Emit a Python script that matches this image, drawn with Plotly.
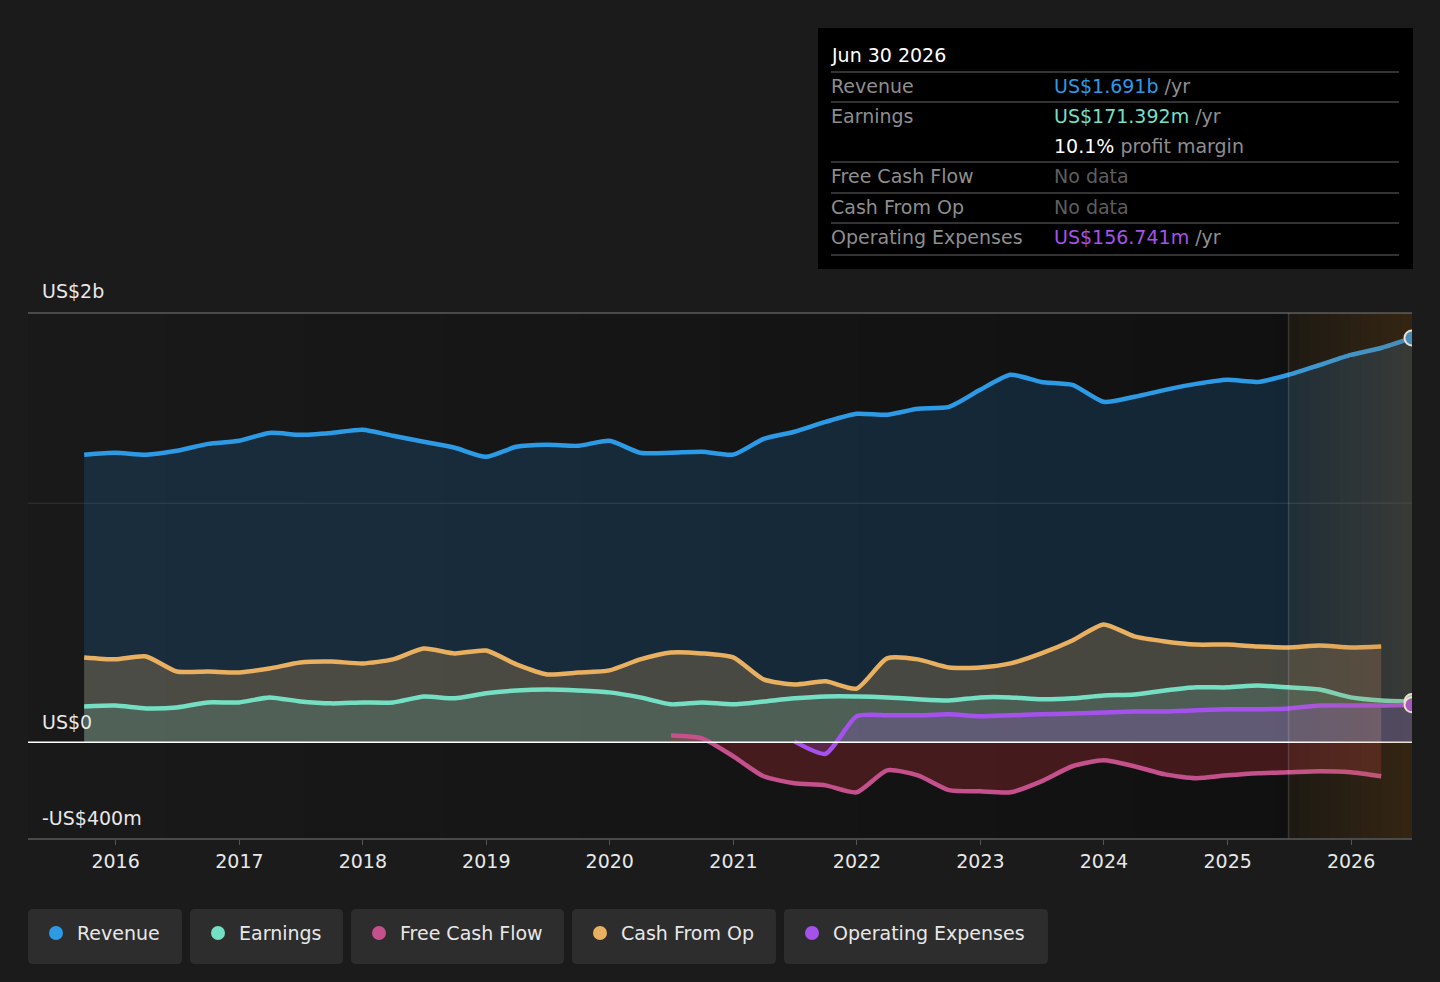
import pandas as pd
import plotly.graph_objects as go

# quarterly values, US$ billions
rev_dates = pd.date_range("2015-09-30", "2026-06-30", freq="QE")
revenue = [1.203, 1.211,
           1.203, 1.219, 1.248, 1.261,
           1.294, 1.286, 1.294, 1.307,
           1.282, 1.257, 1.232, 1.194,
           1.236, 1.244, 1.240, 1.261,
           1.211, 1.211, 1.215, 1.203,
           1.269, 1.299, 1.340, 1.374,
           1.370, 1.395, 1.403, 1.474,
           1.537, 1.507, 1.495, 1.424,
           1.445, 1.474, 1.499, 1.516,
           1.507, 1.537, 1.578, 1.620,
           1.649, 1.691]

earn_dates = pd.date_range("2015-09-30", "2026-06-30", freq="QE")
earnings = [0.150, 0.154,
            0.142, 0.146, 0.167, 0.167,
            0.188, 0.171, 0.163, 0.167,
            0.167, 0.192, 0.184, 0.205,
            0.217, 0.221, 0.217, 0.209,
            0.188, 0.159, 0.167, 0.159,
            0.171, 0.184, 0.192, 0.192,
            0.188, 0.180, 0.175, 0.188,
            0.188, 0.180, 0.184, 0.196,
            0.200, 0.217, 0.230, 0.230,
            0.238, 0.230, 0.221, 0.188,
            0.175, 0.171]

cfo_dates = pd.date_range("2015-09-30", "2026-03-31", freq="QE")
cash_from_op = [0.355, 0.347,
                0.359, 0.296, 0.296, 0.292,
                0.309, 0.334, 0.338, 0.330,
                0.347, 0.392, 0.372, 0.384,
                0.326, 0.284, 0.292, 0.301,
                0.347, 0.376, 0.372, 0.355,
                0.263, 0.242, 0.255, 0.225,
                0.351, 0.347, 0.313, 0.313,
                0.330, 0.372, 0.426, 0.493,
                0.443, 0.422, 0.409, 0.409,
                0.401, 0.397, 0.405, 0.397,
                0.401]

fcf_dates = pd.date_range("2020-06-30", "2026-03-31", freq="QE")
free_cash_flow = [0.029, 0.017, -0.058,
                  -0.142, -0.171, -0.180, -0.209,
                  -0.117, -0.138, -0.200, -0.205,
                  -0.209, -0.163, -0.100, -0.075,
                  -0.100, -0.134, -0.150, -0.138,
                  -0.129, -0.125, -0.121, -0.125,
                  -0.142]

opex_dates = pd.date_range("2021-06-30", "2026-06-30", freq="QE")
operating_expenses = [0.004, -0.048, 0.109,
                      0.113, 0.113, 0.117, 0.109,
                      0.113, 0.117, 0.121, 0.125,
                      0.129, 0.129, 0.134, 0.138,
                      0.138, 0.142, 0.154, 0.154,
                      0.154, 0.157]

years = list(range(2016, 2027))
forecast_start = "2025-06-30"

BLUE = "#2d9ae6"
TEAL = "#75dfc3"
PINK = "#c4508c"
GOLD = "#e9b062"
PURPLE = "#a552ec"

# pixel -> paper helpers (plot area 28..1412 x 313..838)
L, R, T, B = 28, 1412, 313, 838


def px(x):
    return (x - L) / (R - L)


def py(y):
    return (B - y) / (B - T)


fig = go.Figure()


def add_series(dates, vals, color, fill):
    fig.add_trace(go.Scatter(x=dates, y=vals, mode="lines",
                             line=dict(color=color, width=4.5, shape="spline", smoothing=0.6),
                             fill="tozeroy", fillcolor=fill, hoverinfo="skip"))


add_series(rev_dates, revenue, BLUE, "rgba(33,150,243,0.17)")
add_series(cfo_dates, cash_from_op, GOLD, "rgba(233,176,98,0.24)")
add_series(earn_dates, earnings, TEAL, "rgba(117,223,195,0.15)")
add_series(fcf_dates, free_cash_flow, PINK, "rgba(190,45,55,0.30)")
add_series(opex_dates, operating_expenses, PURPLE, "rgba(165,82,236,0.22)")
# end markers on top
for d, v, c in [(rev_dates, revenue, BLUE), (earn_dates, earnings, TEAL),
                (opex_dates, operating_expenses, PURPLE)]:
    fig.add_trace(go.Scatter(x=[d[-1]], y=[v[-1]], mode="markers",
                             marker=dict(size=15, color=c, line=dict(color="white", width=2)),
                             hoverinfo="skip"))

shapes = []
# darker plot background towards the right
for i in range(10):
    shapes.append(dict(type="rect", xref="paper", yref="paper", x0=i / 10, x1=1, y0=0, y1=1,
                       fillcolor="rgba(0,0,0,0.04)", line=dict(width=0), layer="below"))
# grid / borders
shapes.append(dict(type="line", xref="paper", yref="y", x0=0, x1=1, y0=1, y1=1,
                   line=dict(color="#333333", width=1), layer="below"))
shapes.append(dict(type="line", xref="paper", yref="paper", x0=0, x1=1, y0=1, y1=1,
                   line=dict(color="#4a4a4a", width=2)))
shapes.append(dict(type="line", xref="paper", yref="y", x0=0, x1=1, y0=0, y1=0,
                   line=dict(color="#ffffff", width=1.5), layer="above"))
# forecast region
f0 = pd.Timestamp(forecast_start)
f1 = rev_dates[-1]
shapes.append(dict(type="rect", xref="x", yref="paper", x0=f0, x1=f1, y0=0, y1=1,
                   fillcolor="rgba(200,150,70,0.07)", line=dict(width=0), layer="above"))
n = 12
for i in range(n):
    shapes.append(dict(type="rect", xref="x", yref="paper",
                       x0=f0 + (f1 - f0) * i / n, x1=f1, y0=0, y1=1,
                       fillcolor="rgba(200,150,70,0.017)", line=dict(width=0), layer="above"))
shapes.append(dict(type="line", xref="x", yref="paper", x0=f0, x1=f0, y0=0, y1=1,
                   line=dict(color="rgba(255,255,255,0.15)", width=1.5), layer="above"))

# tooltip box
shapes.append(dict(type="rect", xref="paper", yref="paper", x0=px(818), x1=px(1413),
                   y0=py(269), y1=py(28), fillcolor="#000000", line=dict(width=0)))
for yy in [72, 102, 162, 193, 223, 255]:
    shapes.append(dict(type="line", xref="paper", yref="paper", x0=px(831), x1=px(1399),
                       y0=py(yy), y1=py(yy), line=dict(color="#444444", width=1.5)))


def rounded(x0, y0, x1, y1, r):
    pts = [("M", x0 + r, y0), ("L", x1 - r, y0), ("Q", x1, y0, x1, y0 + r),
           ("L", x1, y1 - r), ("Q", x1, y1, x1 - r, y1), ("L", x0 + r, y1),
           ("Q", x0, y1, x0, y1 - r), ("L", x0, y0 + r), ("Q", x0, y0, x0 + r, y0)]
    out = []
    for p in pts:
        coords = p[1:]
        s = p[0]
        for j in range(0, len(coords), 2):
            s += " %.5f,%.5f" % (px(coords[j]), py(coords[j + 1]))
        out.append(s)
    return " ".join(out) + " Z"


legend_items = [("Revenue", BLUE, 28, 182), ("Earnings", TEAL, 190, 343),
                ("Free Cash Flow", PINK, 351, 564), ("Cash From Op", GOLD, 572, 776),
                ("Operating Expenses", PURPLE, 784, 1048)]
annotations = []
for name, col, a, b in legend_items:
    shapes.append(dict(type="path", xref="paper", yref="paper", path=rounded(a, 909, b, 964, 5),
                       fillcolor="#2d2d2d", line=dict(width=0)))
    cx = a + 28
    shapes.append(dict(type="circle", xref="paper", yref="paper",
                       x0=px(cx - 7), x1=px(cx + 7), y0=py(940), y1=py(926),
                       fillcolor=col, line=dict(width=0)))
    annotations.append(dict(x=px(a + 47), y=py(933), xref="paper", yref="paper", text=name,
                            showarrow=False, xanchor="left", yanchor="middle",
                            font=dict(size=19, color="#e8e8e8")))

# y labels
for txt, yy in [("US$2b", 291), ("US$0", 722), ("-US$400m", 818)]:
    annotations.append(dict(x=px(40), y=py(yy), xref="paper", yref="paper", text=txt,
                            showarrow=False, xanchor="left", yanchor="middle",
                            font=dict(size=19, color="#e8e8e8")))

# tooltip text
GRAY = "#8e8e8e"
tip_rows = [
    ("Jun 30 2026", None, 55, "#ffffff"),
    ("Revenue", f"<span style='color:{BLUE}'>US$1.691b</span> /yr", 86, GRAY),
    ("Earnings", f"<span style='color:{TEAL}'>US$171.392m</span> /yr", 116, GRAY),
    ("", "<span style='color:#ffffff'>10.1%</span> profit margin", 146, GRAY),
    ("Free Cash Flow", "<span style='color:#5e5e5e'>No data</span>", 176, GRAY),
    ("Cash From Op", "<span style='color:#5e5e5e'>No data</span>", 207, GRAY),
    ("Operating Expenses", f"<span style='color:{PURPLE}'>US$156.741m</span> /yr", 237, GRAY),
]
for lab, val, yy, col in tip_rows:
    if lab:
        annotations.append(dict(x=px(829), y=py(yy), xref="paper", yref="paper", text=lab,
                                showarrow=False, xanchor="left", yanchor="middle",
                                font=dict(size=19, color=col)))
    if val:
        annotations.append(dict(x=px(1052), y=py(yy), xref="paper", yref="paper", text=val,
                                showarrow=False, xanchor="left", yanchor="middle",
                                font=dict(size=19, color=GRAY)))

fig.update_layout(
    width=1440, height=982,
    margin=dict(l=28, r=28, t=313, b=144),
    paper_bgcolor="#1b1b1b", plot_bgcolor="#1b1b1b",
    font=dict(family="DejaVu Sans", color="#e8e8e8", size=19),
    showlegend=False,
    shapes=shapes, annotations=annotations,
    xaxis=dict(type="date", range=["2015-04-17", "2026-06-30"],
               tickvals=[f"{y}-01-01" for y in years], ticktext=[str(y) for y in years],
               ticks="outside", ticklen=5, tickcolor="#555555", tickwidth=1,
               showgrid=False, zeroline=False, showline=True, linecolor="#4a4a4a", linewidth=2,
               tickfont=dict(size=19, color="#e8e8e8"), ticklabelstandoff=0),
    yaxis=dict(range=[-0.4, 1.7954], showticklabels=False, showgrid=False, zeroline=False),
)

fig.write_html("out.html", config={"displayModeBar": False},
               post_script="document.body.style.margin='0';document.body.style.background='#1b1b1b';")
